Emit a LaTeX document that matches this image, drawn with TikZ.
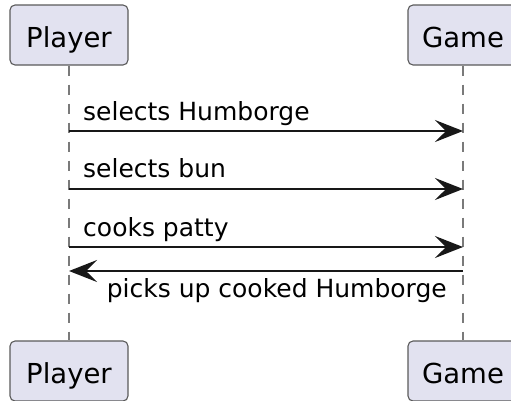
\documentclass[tikz,border=0pt]{standalone}
\usepackage{fontspec}
\setmainfont{DejaVu Sans}
\usetikzlibrary{arrows.meta}
\definecolor{partfill}{HTML}{E2E2F0}
\definecolor{partline}{HTML}{5A5A5A}
\definecolor{msgline}{HTML}{181818}
\definecolor{lifegray}{HTML}{7A7A7A}
\begin{document}
\begin{tikzpicture}[x=1pt,y=-1pt,
  participant/.style={draw=partline, fill=partfill, line width=1.1pt,
    rounded corners=5pt, minimum height=60pt, inner xsep=0pt,
    text height=24pt, text depth=0pt,
    font=\fontsize{27.5}{33}\selectfont},
  lifeline/.style={draw=lifegray, line width=1.3pt, dash pattern=on 10pt off 9pt},
  message/.style={draw=msgline, line width=1.8pt,
    -{Stealth[length=28pt, width=22pt, inset=11pt]}},
  msglabel/.style={inner sep=0pt, font=\fontsize{25}{30}\selectfont}]
  \useasboundingbox (0,0) rectangle (511,400);
  % participants, top and bottom
  \node[participant, minimum width=118pt] (ptop) at (69,35) {Player};
  \node[participant, minimum width=110pt] (gtop) at (463,35) {Game};
  \node[participant, minimum width=118pt] (pbot) at (69,371) {Player};
  \node[participant, minimum width=110pt] (gbot) at (463,371) {Game};
  % lifelines
  \draw[lifeline] (ptop.south) -- (pbot.north);
  \draw[lifeline] (gtop.south) -- (gbot.north);
  % message anchor points on the lifelines
  \coordinate (p1) at (69,131);  \coordinate (g1) at (463,131);
  \coordinate (p2) at (69,189);  \coordinate (g2) at (463,189);
  \coordinate (p3) at (69,247);  \coordinate (g3) at (463,247);
  \coordinate (p4) at (69,271);  \coordinate (g4) at (463,271);
  % messages
  \draw[message] (p1) -- (g1);
  \node[msglabel, anchor=base west] (l1) at (83,120) {selects Humborge};
  \draw[message] (p2) -- (g2);
  \node[msglabel, anchor=base west] (l2) at (83,177) {selects bun};
  \draw[message] (p3) -- (g3);
  \node[msglabel, anchor=base west] (l3) at (83,236) {cooks patty};
  \draw[message] (g4) -- (p4);
  \node[msglabel, anchor=base east] (l4) at (447,297) {picks up cooked Humborge};
\end{tikzpicture}
\end{document}
